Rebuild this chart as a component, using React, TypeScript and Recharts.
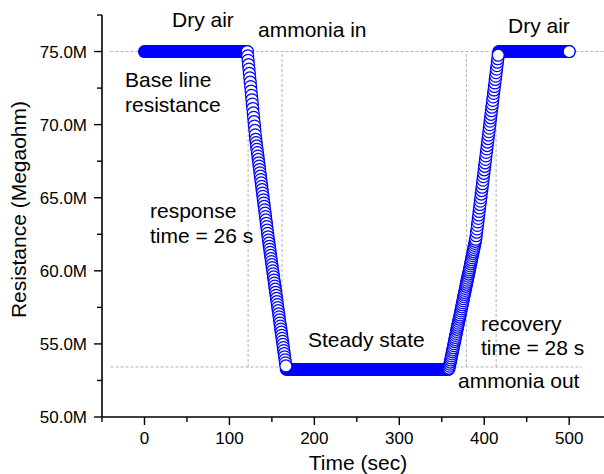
import { ComposedChart, Line, XAxis, YAxis, ReferenceLine } from 'recharts';

const FONT = "'Liberation Sans', Arial, Helvetica, sans-serif";
const BLUE = '#0000ff';
const GUIDE = '#a0a0a0';

// [time (sec), resistance (Megaohm)]
const baseline: [number, number][] = [[0, 75.0], [121, 75.0]];

const responseDrop: [number, number][] = [
  [121.0, 75.0], [121.5, 74.7], [122.0, 74.4], [122.5, 74.1], [123.0, 73.8], [123.5, 73.5],
  [124.0, 73.2], [124.5, 72.9], [125.0, 72.6], [125.5, 72.3], [126.0, 72.0], [126.5, 71.7],
  [127.0, 71.4], [127.5, 71.1], [128.0, 70.8], [128.5, 70.5], [129.0, 70.2], [129.5, 69.9],
  [130.0, 69.6], [130.5, 69.3], [131.0, 69.0], [131.5, 68.77], [132.0, 68.54], [132.5, 68.31],
  [133.0, 68.08], [133.5, 67.85], [134.0, 67.62], [134.5, 67.39], [135.0, 67.16], [135.5, 66.93],
  [136.0, 66.7], [136.5, 66.47], [137.0, 66.24], [137.5, 66.01], [138.0, 65.78], [138.5, 65.55],
  [139.0, 65.32], [139.5, 65.09], [140.0, 64.86], [140.5, 64.63], [141.0, 64.4], [141.5, 64.17],
  [142.0, 63.94], [142.5, 63.71], [143.0, 63.48], [143.5, 63.25], [144.0, 63.02], [144.5, 62.79],
  [145.0, 62.56], [145.5, 62.33], [146.0, 62.1], [146.5, 61.89], [147.0, 61.68], [147.5, 61.47],
  [148.0, 61.26], [148.5, 61.05], [149.0, 60.84], [149.5, 60.63], [150.0, 60.42], [150.5, 60.21],
  [151.0, 60.0], [151.5, 59.79], [152.0, 59.58], [152.5, 59.37], [153.0, 59.16], [153.5, 58.95],
  [154.0, 58.74], [154.5, 58.53], [155.0, 58.32], [155.5, 58.11], [156.0, 57.9], [156.5, 57.69],
  [157.0, 57.48], [157.5, 57.27], [158.0, 57.06], [158.5, 56.85], [159.0, 56.64], [159.5, 56.43],
  [160.0, 56.22], [160.5, 56.01], [161.0, 55.8], [161.5, 55.59], [162.0, 55.38], [162.5, 55.17],
  [163.0, 54.96], [163.5, 54.75], [164.0, 54.54], [164.5, 54.33], [165.0, 54.12], [165.5, 53.91],
  [166.0, 53.7], [166.5, 53.49],
];

const steadyState: [number, number][] = [[167, 53.25], [358, 53.25]];

const recoveryRise: [number, number][] = [
  [358.5, 53.34], [359.0, 53.48], [359.5, 53.62], [360.0, 53.76], [360.5, 53.9],
  [361.0, 54.04], [361.5, 54.18], [362.0, 54.32], [362.5, 54.46], [363.0, 54.6], [363.5, 54.74],
  [364.0, 54.88], [364.5, 55.02], [365.0, 55.16], [365.5, 55.3], [366.0, 55.44], [366.5, 55.58],
  [367.0, 55.72], [367.5, 55.86], [368.0, 56.0], [368.5, 56.14], [369.0, 56.28], [369.5, 56.42],
  [370.0, 56.56], [370.5, 56.7], [371.0, 56.84], [371.5, 56.98], [372.0, 57.12], [372.5, 57.26],
  [373.0, 57.4], [373.5, 57.54], [374.0, 57.68], [374.5, 57.82], [375.0, 57.96], [375.5, 58.1],
  [376.0, 58.24], [376.5, 58.38], [377.0, 58.52], [377.5, 58.66], [378.0, 58.8], [378.5, 58.94],
  [379.0, 59.08], [379.5, 59.22], [380.0, 59.36], [380.5, 59.5], [381.0, 59.64], [381.5, 59.78],
  [382.0, 59.92], [382.5, 60.06], [383.0, 60.2], [383.5, 60.34], [384.0, 60.48], [384.5, 60.62],
  [385.0, 60.76], [385.5, 60.9], [386.0, 61.04], [386.5, 61.18], [387.0, 61.32], [387.5, 61.46],
  [388.0, 61.6], [388.5, 61.74], [389.0, 61.88], [389.5, 62.02], [390.0, 62.16], [390.5, 62.4],
  [391.0, 62.64], [391.5, 62.87], [392.0, 63.11], [392.5, 63.35], [393.0, 63.59], [393.5, 63.82],
  [394.0, 64.06], [394.5, 64.3], [395.0, 64.54], [395.5, 64.77], [396.0, 65.01], [396.5, 65.25],
  [397.0, 65.49], [397.5, 65.72], [398.0, 65.96], [398.5, 66.2], [399.0, 66.44], [399.5, 66.67],
  [400.0, 66.91], [400.5, 67.15], [401.0, 67.39], [401.5, 67.62], [402.0, 67.86], [402.5, 68.1],
  [403.0, 68.34], [403.5, 68.57], [404.0, 68.81], [404.5, 69.05], [405.0, 69.29], [405.5, 69.52],
  [406.0, 69.76], [406.5, 70.0], [407.0, 70.24], [407.5, 70.47], [408.0, 70.71], [408.5, 70.95],
  [409.0, 71.19], [409.5, 71.42], [410.0, 71.66], [410.5, 71.9], [411.0, 72.14], [411.5, 72.37],
  [412.0, 72.61], [412.5, 72.85], [413.0, 73.09], [413.5, 73.32], [414.0, 73.56], [414.5, 73.8],
  [415.0, 74.04], [415.5, 74.27], [416.0, 74.51], [416.5, 74.75],
];

const recovered: [number, number][] = [[417, 75.0], [500, 75.0]];
const lastPoint: [number, number][] = [[500, 75.0]];

const xTicks = [-50, 0, 50, 100, 150, 200, 250, 300, 350, 400, 450, 500];
const xMajor = [0, 100, 200, 300, 400, 500];
const yTicks = [50, 52.5, 55, 57.5, 60, 62.5, 65, 67.5, 70, 72.5, 75, 77.5];
const yMajor = [50, 55, 60, 65, 70, 75];

// dashed guide lines: baseline / steady level and the event times
const hGuides = [
  { from: -40, to: 541, level: 75 },
  { from: -40, to: 515, level: 53.42 },
];
const vGuides = [122, 162, 379, 414];

const toRows = (pts: [number, number][]) => pts.map(([t, r]) => ({ t, r }));

const annotations = [
  { text: 'Dry air', x: 172, y: 27 },
  { text: 'ammonia in', x: 258, y: 37 },
  { text: 'Dry air', x: 508, y: 33 },
  { text: 'Base line', x: 125, y: 87 },
  { text: 'resistance', x: 125, y: 112 },
  { text: 'response', x: 150, y: 218 },
  { text: 'time = 26 s', x: 150, y: 243 },
  { text: 'Steady state', x: 308, y: 347 },
  { text: 'recovery', x: 481, y: 331 },
  { text: 'time = 28 s', x: 481, y: 355 },
  { text: 'ammonia out', x: 458, y: 388 },
];

function XTick({ x, y, payload }: any) {
  const major = xMajor.includes(payload.value);
  return (
    <g>
      <line x1={x} x2={x} y1={y} y2={y + (major ? 8 : 5)} stroke="#000" strokeWidth={1.4} />
      {major && (
        <text x={x} y={y + 15} dy="0.71em" textAnchor="middle" fontSize={17} fill="#000" fontFamily={FONT}>
          {payload.value}
        </text>
      )}
    </g>
  );
}

function YTick({ x, y, payload }: any) {
  const major = yMajor.includes(payload.value);
  return (
    <g>
      <line x1={x} x2={x - (major ? 8 : 5)} y1={y} y2={y} stroke="#000" strokeWidth={1.4} />
      {major && (
        <text x={x - 15} y={y} dy="0.355em" textAnchor="end" fontSize={17} fill="#000" fontFamily={FONT}>
          {`${payload.value.toFixed(1)}M`}
        </text>
      )}
    </g>
  );
}

const ring = (fill: string) => (p: any) => (
  <circle key={p.index} cx={p.cx} cy={p.cy} r={6} fill={fill} stroke={BLUE} strokeWidth={1.25} />
);

export default function App() {
  return (
    <div style={{ position: 'absolute', left: 0, top: 0, width: 604, height: 474, background: '#fff' }}>
      <ComposedChart width={604} height={474} margin={{ top: 15, right: 0, bottom: 0, left: 0 }}>
        <XAxis
          dataKey="t"
          type="number"
          domain={[-50, 541]}
          ticks={xTicks}
          interval={0}
          allowDataOverflow
          height={57}
          tickSize={0}
          tickMargin={0}
          tick={<XTick />}
          axisLine={{ stroke: '#000', strokeWidth: 1.6 }}
        />
        <YAxis
          dataKey="r"
          type="number"
          domain={[50, 77.5]}
          ticks={yTicks}
          interval={0}
          allowDataOverflow
          width={102}
          tickSize={0}
          tickMargin={0}
          tick={<YTick />}
          axisLine={{ stroke: '#000', strokeWidth: 1.6 }}
        />
        {hGuides.map((g) => (
          <ReferenceLine
            key={`h${g.level}`}
            segment={[{ x: g.from, y: g.level }, { x: g.to, y: g.level }]}
            stroke={GUIDE}
            strokeWidth={0.8}
            strokeDasharray="3 2"
          />
        ))}
        {vGuides.map((t) => (
          <ReferenceLine
            key={`v${t}`}
            segment={[{ x: t, y: 53.42 }, { x: t, y: 75 }]}
            stroke={GUIDE}
            strokeWidth={0.8}
            strokeDasharray="3 2"
          />
        ))}
        <Line data={toRows(baseline)} dataKey="r" stroke={BLUE} strokeWidth={13} strokeLinecap="round" dot={false} isAnimationActive={false} />
        <Line data={toRows(responseDrop)} dataKey="r" stroke="none" dot={ring('#fff')} isAnimationActive={false} />
        <Line data={toRows(steadyState)} dataKey="r" stroke={BLUE} strokeWidth={13} strokeLinecap="round" dot={false} isAnimationActive={false} />
        <Line data={toRows(recoveryRise)} dataKey="r" stroke="none" dot={ring('#fff')} isAnimationActive={false} />
        <Line data={toRows(recovered)} dataKey="r" stroke={BLUE} strokeWidth={13} strokeLinecap="round" dot={false} isAnimationActive={false} />
        <Line data={toRows(lastPoint)} dataKey="r" stroke="none" dot={ring('#fff')} isAnimationActive={false} />
      </ComposedChart>
      <svg
        width={604}
        height={474}
        style={{ position: 'absolute', left: 0, top: 0, pointerEvents: 'none' }}
        fontFamily={FONT}
        fontSize={21}
        fill="#000"
      >
        {annotations.map((a, i) => (
          <text key={i} x={a.x} y={a.y}>{a.text}</text>
        ))}
        <text x={358} y={470} textAnchor="middle">Time (sec)</text>
        <text transform="translate(26,209.5) rotate(-90)" textAnchor="middle">Resistance (Megaohm)</text>
      </svg>
    </div>
  );
}
